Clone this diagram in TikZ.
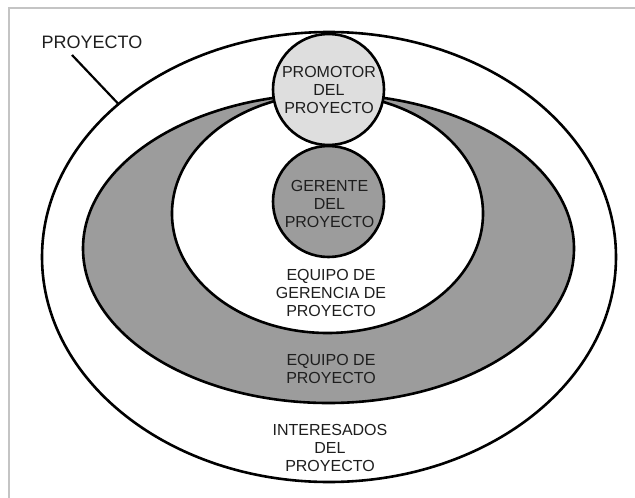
\documentclass[tikz,border=0pt]{standalone}
\usepackage{fontspec}
\setmainfont{Liberation Sans}
\usetikzlibrary{shapes.geometric}

\definecolor{bandgray}{HTML}{9C9C9C}
\definecolor{lightgray}{HTML}{DEDEDE}
\definecolor{framegray}{HTML}{C4C4C4}
\definecolor{inkgray}{HTML}{1E1E1E}

\begin{document}
\begin{tikzpicture}[
  x=1pt, y=-1pt,
  ring/.style={ellipse, draw, line width=2.6pt, inner sep=0pt, outer sep=0pt},
  role/.style={circle, draw, line width=2.6pt, inner sep=0pt, minimum size=111pt},
  tag/.style={align=center, text=inkgray, font=\fontsize{16}{18}\selectfont}
]
  \useasboundingbox (0,0) rectangle (635,498);
  \draw[framegray, line width=1.6pt] (9,498) -- (9,8) -- (635,8);

  \node[ring, fill=white, minimum width=574pt, minimum height=450pt] (proyecto) at (329,257) {};
  \node[ring, fill=bandgray, minimum width=491pt, minimum height=309pt] (equipo) at (328.5,248.5) {};
  \node[ring, fill=white, minimum width=311pt, minimum height=239pt] (gerencia) at (327.5,213.5) {};

  \node[role, fill=lightgray] (promotor) at (328.5,89.5) {};
  \node[role, fill=bandgray] (gerente) at (328.5,201.5) {};

  \node[tag] (txtpromotor) at (329,90) {PROMOTOR\\DEL\\PROYECTO};
  \node[tag] (txtgerente) at (329.5,204) {GERENTE\\DEL\\PROYECTO};
  \node[tag] (txtgerencia) at (331,293) {EQUIPO DE\\GERENCIA DE\\PROYECTO};
  \node[tag] (txtequipo) at (331,369) {EQUIPO DE\\PROYECTO};
  \node[tag] (txtinteresados) at (330,448) {INTERESADOS\\DEL\\PROYECTO};

  \node[text=inkgray, font=\fontsize{18}{20}\selectfont] (lblproyecto) at (92,42) {PROYECTO};
  \coordinate (ptrstart) at (72,55);
  \draw[line width=2.2pt] (ptrstart) -- (proyecto.144);
\end{tikzpicture}
\end{document}
